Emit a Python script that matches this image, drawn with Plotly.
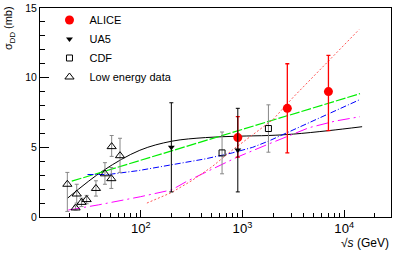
import plotly.graph_objects as go

# ---------------- data ----------------
alice_x = [900, 2760, 7000]
alice_y = [5.7, 7.8, 9.0]
alice_eplus = [1.5, 3.2, 2.6]
alice_eminus = [1.4, 3.2, 2.8]

ua5_x = [200, 900]
ua5_y = [5.0, 4.8]
ua5_err = [3.2, 3.0]

cdf_x = [630, 1800]
cdf_y = [4.6, 6.35]
cdf_err = [1.5, 1.7]

low_x = [19.0, 22.9, 23.5, 26.2, 29.4, 36.3, 44.5, 51.4, 51.8, 62.6]
low_y = [2.35, 0.65, 1.65, 1.05, 1.25, 2.05, 3.1, 2.75, 5.05, 4.4]
low_eplus = [0.85, 0.15, 0.7, 0.3, 0.3, 0.55, 0.8, 0.8, 0.8, 1.25]
low_eminus = [1.95, 0.15, 0.65, 0.3, 0.3, 0.55, 0.75, 0.7, 0.7, 1.2]

# model curves (sqrt(s) in GeV, sigma_DD in mb)
black_x = [19, 43, 98, 202, 432, 912, 1820, 3160, 7060, 15000]
black_y = [1.34, 3.34, 4.79, 5.44, 5.70, 5.80, 5.85, 5.95, 6.20, 6.48]

green_x = [21, 14300]
green_y = [2.57, 8.85]

blue_x = [30, 48, 95, 235, 430, 794, 1260, 1810, 3860, 7940, 14200]
blue_y = [3.05, 3.05, 3.33, 3.82, 4.17, 4.60, 5.00, 5.45, 6.55, 7.55, 8.42]

magenta_x = [19.4, 38.4, 100, 202, 282, 501, 883, 1810, 4510, 8220, 14300]
magenta_y = [0.50, 0.87, 1.46, 1.95, 2.55, 3.40, 4.29, 5.24, 6.41, 6.89, 7.20]

red_x = [115, 200, 316, 501, 794, 1260, 2000, 3160, 5010, 7940, 14000]
red_y = [1.0, 1.75, 2.6, 3.6, 4.8, 5.9, 7.0, 8.6, 10.1, 11.6, 13.45]

y_ticks = [0, 5, 10, 15]

FONT = "Liberation Sans, Arial, Helvetica, sans-serif"

fig = go.Figure()

# model lines
fig.add_trace(go.Scatter(x=black_x, y=black_y, mode="lines", showlegend=False,
                         line=dict(color="black", width=1), line_shape="spline"))
fig.add_trace(go.Scatter(x=green_x, y=green_y, mode="lines", showlegend=False,
                         line=dict(color="#00ee00", width=1.2, dash="10px,2px")))
fig.add_trace(go.Scatter(x=blue_x, y=blue_y, mode="lines", showlegend=False,
                         line=dict(color="#0000ff", width=1, dash="6px,2px,1px,2px")))
fig.add_trace(go.Scatter(x=magenta_x, y=magenta_y, mode="lines", showlegend=False,
                         line=dict(color="#ff00ff", width=1, dash="12px,4px,2px,4px")))
fig.add_trace(go.Scatter(x=red_x, y=red_y, mode="lines", showlegend=False,
                         line=dict(color="#ff5555", width=1, dash="2px,2px")))

# data
fig.add_trace(go.Scatter(
    x=alice_x, y=alice_y, mode="markers", name="ALICE",
    marker=dict(symbol="circle", size=9, color="#ff0000"),
    error_y=dict(type="data", symmetric=False, array=alice_eplus, arrayminus=alice_eminus,
                 color="#ff0000", thickness=1.3, width=2)))
fig.add_trace(go.Scatter(
    x=ua5_x, y=ua5_y, mode="markers", name="UA5",
    marker=dict(symbol="triangle-down", size=6, color="black"),
    error_y=dict(type="data", array=ua5_err, color="black", thickness=1, width=2)))
fig.add_trace(go.Scatter(
    x=cdf_x, y=cdf_y, mode="markers", name="CDF",
    marker=dict(symbol="square-open", size=6, color="black", line=dict(width=1)),
    error_y=dict(type="data", array=cdf_err, color="#888888", thickness=1, width=2)))
fig.add_trace(go.Scatter(
    x=low_x, y=low_y, mode="markers", name="Low energy data",
    marker=dict(symbol="triangle-up-open", size=8, color="black", line=dict(width=1)),
    error_y=dict(type="data", symmetric=False, array=low_eplus, arrayminus=low_eminus,
                 color="#888888", thickness=1, width=2)))

fig.update_layout(
    width=394, height=253,
    margin=dict(l=40, r=2, t=5, b=36),
    paper_bgcolor="white", plot_bgcolor="white",
    font=dict(family=FONT, size=10, color="black"),
    legend=dict(x=0.027, y=1.012, xanchor="left", yanchor="top",
                bgcolor="rgba(0,0,0,0)", borderwidth=0, tracegroupgap=0,
                font=dict(size=11)),
    annotations=[
        dict(text="σ<sub>DD</sub> (mb)", textangle=-90, xref="paper", yref="paper",
             x=-0.088, y=1.02, xanchor="center", yanchor="top", showarrow=False,
             font=dict(size=11)),
        dict(text="√<i>s</i> (GeV)", xref="paper", yref="paper",
             x=1.0, y=-0.123, xanchor="right", yanchor="middle", showarrow=False,
             font=dict(size=12)),
    ],
)

fig.update_xaxes(type="log", range=[1.01, 4.46], dtick=1, exponentformat="power",
                 showgrid=False, zeroline=False, showline=True, linecolor="black",
                 linewidth=1, mirror=True, ticks="inside", ticklen=7, tickcolor="black",
                 tickfont=dict(size=10.5),
                 minor=dict(ticks="inside", ticklen=4, dtick="D1", tickcolor="black",
                            showgrid=False))
fig.update_yaxes(range=[0, 15.0001], tickmode="array", tickvals=y_ticks,
                 ticktext=[str(v) for v in y_ticks], ticklabeloverflow="allow",
                 showgrid=False, zeroline=False,
                 showline=True, linecolor="black", linewidth=1, mirror=True,
                 ticks="inside", ticklen=9, tickcolor="black", tickfont=dict(size=10.5),
                 minor=dict(ticks="inside", ticklen=5, dtick=1, tickcolor="black",
                            showgrid=False))

fig.write_html("out.html", config={"displayModeBar": False},
               post_script="document.body.style.margin='0';document.body.style.overflow='hidden';")
